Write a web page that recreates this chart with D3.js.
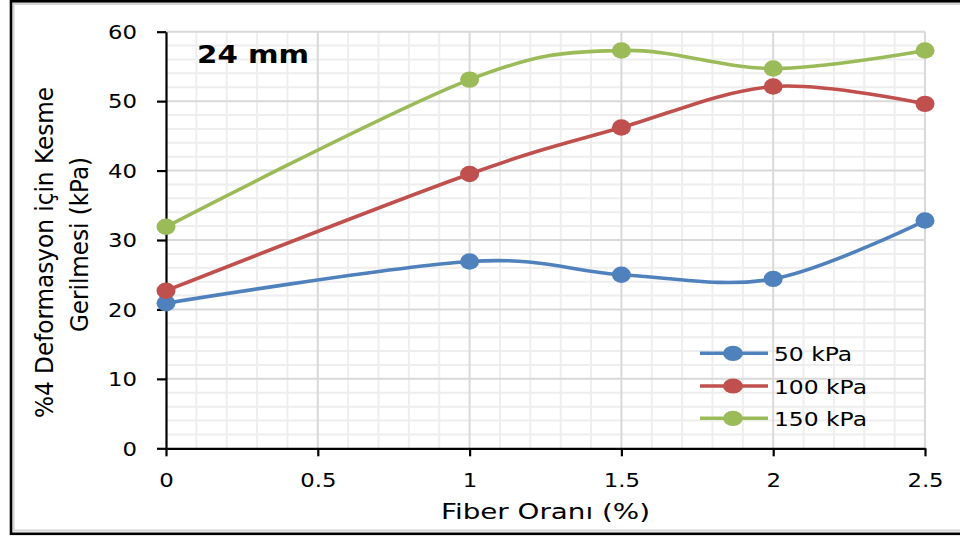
<!DOCTYPE html>
<html>
<head>
<meta charset="utf-8">
<script src="https://cdn.jsdelivr.net/npm/d3@7"></script>
<style>
  html, body { margin: 0; padding: 0; background: #fff; }
  svg { display: block; }
  text { font-family: "DejaVu Sans", Verdana, sans-serif; fill: #000; }
</style>
</head>
<body>
<svg id="chart" width="960" height="538"></svg>
<script>
// Fiber ratio (%) on the x axis
const fiberRatio = [0, 1, 1.5, 2, 2.5];
// Shear stress at 4% deformation (kPa) for each normal stress
const s50 = [20.9, 26.9, 25.0, 24.4, 32.8];
const s100 = [22.7, 39.5, 46.2, 52.1, 49.6];
const s150 = [31.9, 53.1, 57.3, 54.7, 57.3];
const seriesNames = ["50 kPa", "100 kPa", "150 kPa"];
const seriesColors = ["#4f81bd", "#c0504d", "#9bbb59"];
const xTicks = [0, 0.5, 1, 1.5, 2, 2.5];
const yTicks = [0, 10, 20, 30, 40, 50, 60];
const chartTitle = "24 mm";
const xTitle = "Fiber Oranı (%)";
const yTitleLines = ["%4 Deformasyon için Kesme", "Gerilmesi (kPa)"];

const series = [s50, s100, s150].map((vals, i) => ({
  name: seriesNames[i],
  color: seriesColors[i],
  points: vals.map((v, j) => ({ x: fiberRatio[j], y: v }))
}));

const svg = d3.select("#chart");
const SX = 1.2; // horizontal stretch of the lettering

const x = d3.scaleLinear().domain([0, 2.5]).range([166, 925]);
const y = d3.scaleLinear().domain([0, 60]).range([448.3, 31.7]);

// outer frame with light inner rim
svg.append("rect").attr("x", 13.5).attr("y", 4).attr("width", 960).attr("height", 526.5)
  .attr("fill", "none").attr("stroke", "#d4d4d4").attr("stroke-width", 2);
svg.append("rect").attr("x", 11).attr("y", 1.3).attr("width", 960).attr("height", 532.5)
  .attr("fill", "none").attr("stroke", "#000").attr("stroke-width", 2.6);

// gridlines: minor first, then major
const grid = svg.append("g");
const minorX = d3.range(1, 25).map(d => d / 10).filter(d => Math.abs(d * 2 - Math.round(d * 2)) > 1e-6);
const minorY = d3.range(2, 60, 2).filter(d => d % 10 !== 0);
grid.selectAll(".mx").data(minorX).join("line")
  .attr("x1", d => x(d)).attr("x2", d => x(d)).attr("y1", y(0)).attr("y2", y(60))
  .attr("stroke", "#eeeeee").attr("stroke-width", 2);
grid.selectAll(".my").data(minorY).join("line")
  .attr("x1", x(0)).attr("x2", x(2.5)).attr("y1", d => y(d)).attr("y2", d => y(d))
  .attr("stroke", "#eeeeee").attr("stroke-width", 2);
grid.selectAll(".Mx").data(xTicks.slice(1)).join("line")
  .attr("x1", d => x(d)).attr("x2", d => x(d)).attr("y1", y(0)).attr("y2", y(60))
  .attr("stroke", "#d9d9d9").attr("stroke-width", 2);
grid.selectAll(".My").data(yTicks.slice(1)).join("line")
  .attr("x1", x(0)).attr("x2", x(2.5)).attr("y1", d => y(d)).attr("y2", d => y(d))
  .attr("stroke", "#d9d9d9").attr("stroke-width", 2);

// axes
const xAxis = svg.append("g").attr("transform", `translate(0,${y(0)})`)
  .call(d3.axisBottom(x).tickValues(xTicks).tickSize(8).tickSizeOuter(0).tickFormat(d3.format("")));
const yAxis = svg.append("g").attr("transform", `translate(${x(0)},0)`)
  .call(d3.axisLeft(y).tickValues(yTicks).tickSize(9).tickSizeOuter(0));
[xAxis, yAxis].forEach(a => {
  a.select(".domain").attr("stroke", "#000").attr("stroke-width", 2.2);
  a.selectAll(".tick line").attr("stroke", "#000").attr("stroke-width", 2.2);
  a.selectAll(".tick text").attr("font-family", "DejaVu Sans").attr("font-size", 19).attr("fill", "#000");
});
xAxis.selectAll(".tick text").attr("y", 0).attr("dy", 0)
  .attr("transform", `translate(0,39) scale(${SX},1)`);
yAxis.selectAll(".tick text").attr("x", 0).attr("dy", "0.36em")
  .attr("transform", `translate(-29,0) scale(${SX},1)`);

// series lines and markers
const line = d3.line().x(d => x(d.x)).y(d => y(d.y)).curve(d3.curveCardinal.tension(0));
const sg = svg.append("g");
series.forEach(s => {
  sg.append("path").datum(s.points).attr("d", line)
    .attr("fill", "none").attr("stroke", s.color).attr("stroke-width", 3.6);
});
series.forEach(s => {
  sg.selectAll(null).data(s.points).join("ellipse")
    .attr("cx", d => x(d.x)).attr("cy", d => y(d.y))
    .attr("rx", 9.5).attr("ry", 8.2).attr("fill", s.color);
});

// chart label
svg.append("text").attr("x", 197).attr("y", 63.3)
  .attr("font-weight", "bold").attr("font-size", 25)
  .attr("textLength", 112).attr("lengthAdjust", "spacingAndGlyphs")
  .text(chartTitle);

// axis titles
svg.append("text").attr("text-anchor", "middle")
  .attr("transform", "translate(545.5,519)")
  .attr("font-size", 22).attr("textLength", 209).attr("lengthAdjust", "spacingAndGlyphs")
  .text(xTitle);
const yTitlePos = [[52.5, 252.5, 331], [88.3, 244.5, 175]];
yTitleLines.forEach((t, i) => {
  svg.append("text").attr("text-anchor", "middle")
    .attr("transform", `translate(${yTitlePos[i][0]},${yTitlePos[i][1]}) rotate(-90)`)
    .attr("font-size", 25.5).attr("textLength", yTitlePos[i][2]).attr("lengthAdjust", "spacingAndGlyphs")
    .text(t);
});

// legend
const legend = svg.append("g");
const legendRows = [353.3, 386, 418.3];
series.forEach((s, i) => {
  const g = legend.append("g").attr("transform", `translate(0,${legendRows[i]})`);
  g.append("line").attr("x1", 700).attr("x2", 768).attr("y1", 0).attr("y2", 0)
    .attr("stroke", s.color).attr("stroke-width", 3.6);
  g.append("ellipse").attr("cx", 733).attr("cy", 0).attr("rx", 10).attr("ry", 7.6).attr("fill", s.color);
  g.append("text").attr("x", 0).attr("y", 0)
    .attr("transform", `translate(774,7.6) scale(${SX},1)`)
    .attr("font-size", 19.5).text(s.name);
});
</script>
</body>
</html>
